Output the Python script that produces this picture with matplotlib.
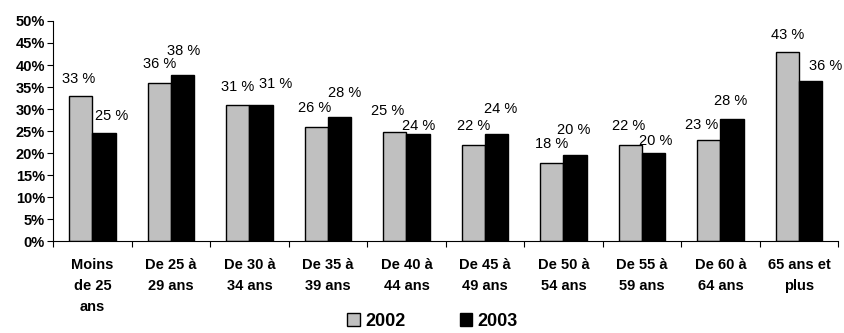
import numpy as np
import matplotlib
matplotlib.use("Agg")
import matplotlib.pyplot as plt
from matplotlib.patches import Patch

plt.rcParams['font.family'] = ['Liberation Sans', 'DejaVu Sans']

# Data
categories = ["Moins\nde 25\nans", "De 25 à\n29 ans", "De 30 à\n34 ans", "De 35 à\n39 ans",
              "De 40 à\n44 ans", "De 45 à\n49 ans", "De 50 à\n54 ans", "De 55 à\n59 ans",
              "De 60 à\n64 ans", "65 ans et\nplus"]
val_2002 = [33.0, 35.8, 31.0, 26.0, 24.7, 21.8, 17.8, 21.8, 23.0, 42.9]
val_2003 = [24.6, 37.7, 31.0, 28.1, 24.3, 24.3, 19.6, 20.0, 27.8, 36.4]
lab_2002 = ["33 %", "36 %", "31 %", "26 %", "25 %", "22 %", "18 %", "22 %", "23 %", "43 %"]
lab_2003 = ["25 %", "38 %", "31 %", "28 %", "24 %", "24 %", "20 %", "20 %", "28 %", "36 %"]

# label nudges (pixels) as placed in the original
dx_2002 = [-2, 0, 0, -2, -7, 0, 0, -2, -7, 0]
dy_2002 = [17, 19, 18, 19, 21, 19.5, 19, 19, 14.5, 17]
dx_2003 = [8, 1, 14.5, 5.5, 1, 4.5, -1.5, 2.5, -1.7, 15]
dy_2003 = [17, 24, 20.6, 24, 8.5, 25, 25, 12.5, 18.2, 15]

fig = plt.figure(figsize=(8.45, 3.33), dpi=100)
ax = fig.add_axes([0.063, 0.276, 0.929, 0.661])

x = np.arange(len(categories))
w = 0.295
b1 = ax.bar(x - w / 2, val_2002, w, color='#C0C0C0', edgecolor='black', linewidth=1)
b2 = ax.bar(x + w / 2, val_2003, w, color='black', edgecolor='black', linewidth=1)

# data labels
for bars, labs, dxs, dys in [(b1, lab_2002, dx_2002, dy_2002), (b2, lab_2003, dx_2003, dy_2003)]:
    for r, t, dx, dy in zip(bars, labs, dxs, dys):
        ax.annotate(t, (r.get_x() + r.get_width() / 2, r.get_height()),
                    xytext=(dx, dy), textcoords='offset pixels',
                    ha='center', va='center', fontsize=10.5, annotation_clip=False)

ax.set_xlim(-0.5, len(categories) - 0.5)
ax.set_ylim(0, 50)
ax.set_yticks(np.arange(0, 51, 5))
ax.set_yticklabels([f"{v}%" for v in range(0, 51, 5)], fontweight='bold', fontsize=10.5)

# major ticks on boundaries, labels at centres
ax.set_xticks(np.arange(-0.5, len(categories), 1))
ax.set_xticklabels([])
ax.set_xticks(x, minor=True)
ax.set_xticklabels(categories, minor=True, fontweight='bold', fontsize=10.5, linespacing=1.65)
ax.tick_params(axis='x', which='minor', length=0, pad=12)
ax.tick_params(axis='x', which='major', length=4, direction='out')
ax.tick_params(axis='y', length=4, direction='out', pad=2)

ax.spines['top'].set_visible(False)
ax.spines['right'].set_visible(False)

handles = [Patch(facecolor='#C0C0C0', edgecolor='black', label='2002'),
           Patch(facecolor='black', edgecolor='black', label='2003')]
fig.legend(handles=handles, loc='lower center', bbox_to_anchor=(0.512, -0.04), ncol=2,
           frameon=False, prop={'weight': 'bold', 'size': 13},
           handlelength=0.7, handleheight=0.7, handletextpad=0.3, columnspacing=3)

fig.savefig("out.png", dpi=100)
